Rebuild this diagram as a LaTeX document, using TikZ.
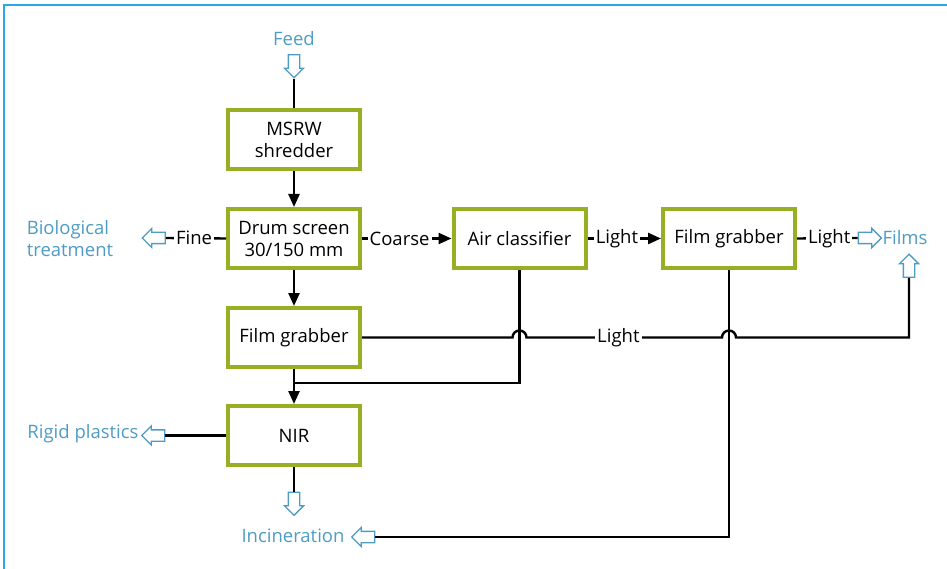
\documentclass[tikz,border=0pt]{standalone}
\usepackage{fontspec}
\setmainfont{Open Sans}
\usetikzlibrary{shapes.arrows,arrows.meta}
\definecolor{boxgreen}{RGB}{150,175,35}
\definecolor{outblue}{RGB}{78,156,196}
\definecolor{frameblue}{RGB}{41,171,226}
\begin{document}
\begin{tikzpicture}[x=1pt,y=-1pt, font=\fontsize{18.5}{22}\selectfont,
 proc/.style={draw=boxgreen, line width=4pt, fill=white, minimum width=132pt, minimum height=59pt, align=center, inner sep=0pt},
 flow/.style={line width=2.4pt, draw=black},
 flowarr/.style={flow, -{Triangle[length=13pt,width=11pt]}},
 lbl/.style={fill=white, inner xsep=2pt, inner ysep=0pt},
 outtxt/.style={text=outblue, inner sep=0pt},
 harrow/.style={single arrow, draw=outblue, line width=1.3pt, fill=white, minimum height=23pt, minimum width=18pt, inner xsep=0pt, inner ysep=5pt, single arrow head extend=4pt}]
\useasboundingbox (0,0) rectangle (947,569);
\draw[frameblue, line width=2pt] (4,569) -- (4,5) -- (947,5);

% process boxes
\node[proc] (msrw) at (294,140) {MSRW\\shredder};
\node[proc] (drum) at (294,238.5) {Drum screen\\30/150 mm};
\node[proc] (fg1) at (294,337.5) {Film grabber};
\node[proc] (nir) at (294,435.5) {NIR};
\node[proc] (air) at (519.5,238.5) {Air classifier};
\node[proc] (fg2) at (729,238.5) {Film grabber};

% hollow output arrows
\node[harrow, rotate=-90] (feedarr) at (294,63.5) {};
\node[harrow, rotate=180] (bioarr) at (156.5,238) {};
\node[harrow] (filmsarr) at (867,238) {};
\node[harrow, rotate=90] (filmsup) at (909,268.5) {};
\node[harrow, rotate=180] (rigidarr) at (156,435.5) {};
\node[harrow, rotate=-90] (nirarr) at (294,501) {};
\node[harrow, rotate=180] (incarr) at (366,537) {};

% output texts
\node[outtxt] (feed) at (294,39) {Feed};
\node[outtxt, align=left] (bio) at (70,239) {Biological\\treatment};
\node[outtxt] (films) at (905,238) {Films};
\node[outtxt] (rigid) at (83,434) {Rigid plastics};
\node[outtxt] (inc) at (293,536) {Incineration};

% connectors
\draw[flow] (feedarr.tip) -- (msrw.north);
\draw[flowarr] (msrw.south) -- (drum.north);
\draw[flowarr] (drum.south) -- (fg1.north);
\draw[flowarr] (fg1.south) -- (nir.north);
\draw[flow] (drum.west) -- node[lbl, pos=0.53] {Fine} (bioarr.tail);
\draw[flowarr] (drum.east) -- node[lbl, pos=0.42] {Coarse} (air.west);
\draw[flowarr] (air.east) -- node[lbl, pos=0.4] {Light} (fg2.west);
\draw[flow] (fg2.east) -- node[lbl, pos=0.53] {Light} (filmsarr.tail);
\coordinate (j1) at (294,383);
\draw[flow] (air.south) -- (air.south |- j1) -- (j1);
\draw[flow] (fg2.south) -- (fg2.south |- incarr.tail) -- (incarr.tail);
\draw[flow] (nir.south) -- (nirarr.tail);
\draw[flow] (nir.west) -- (rigidarr.tail);
\draw[flow] (fg1.east) -- (512.5,337.5) arc[start angle=180, end angle=0, radius=7pt]
  -- node[lbl, pos=0.47] {Light} (722,337.5) arc[start angle=180, end angle=0, radius=7pt]
  -- (filmsup.tail |- fg1.east) -- (filmsup.tail);
\end{tikzpicture}
\end{document}
